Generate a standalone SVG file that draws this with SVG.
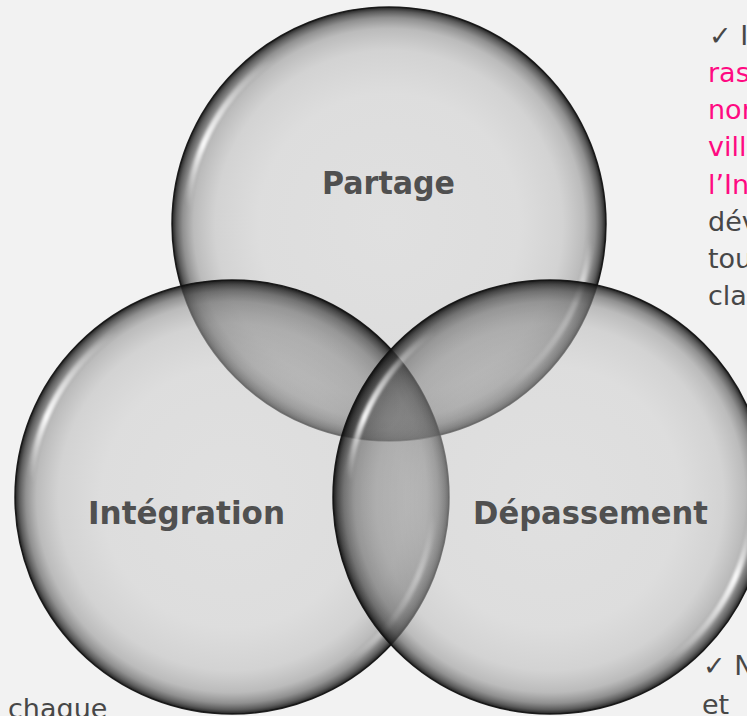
<svg xmlns="http://www.w3.org/2000/svg" width="747" height="716" viewBox="0 0 747 716">
<style>
.rim{fill:none;stroke:#111;stroke-width:1.5;stroke-opacity:0.92}
.glass{fill:url(#glass)}
.shade{fill:url(#shade)}
.hl{fill:none;stroke-width:6;stroke-linecap:round;filter:url(#soft)}
.label{font-family:"DejaVu Sans","Liberation Sans",sans-serif;font-weight:bold;font-size:32px;fill:#505050;text-anchor:middle}
.body{font-family:"DejaVu Sans","Liberation Sans",sans-serif;font-size:27px}
.gray{fill:#474747}
.pink{fill:#ff0a82}
</style>
<defs>
<radialGradient id="glass" cx="0.5" cy="0.5" r="0.5">
<stop offset="0" stop-color="#cecece" stop-opacity="0.5"/>
<stop offset="0.6" stop-color="#cacaca" stop-opacity="0.52"/>
<stop offset="0.8" stop-color="#bababa" stop-opacity="0.56"/>
<stop offset="0.9" stop-color="#9a9a9a" stop-opacity="0.62"/>
<stop offset="0.95" stop-color="#6e6e6e" stop-opacity="0.74"/>
<stop offset="0.98" stop-color="#404040" stop-opacity="0.85"/>
<stop offset="1" stop-color="#151515" stop-opacity="0.95"/>
</radialGradient>
<radialGradient id="shade" cx="0.5" cy="0.5" r="0.5">
<stop offset="0" stop-color="#000" stop-opacity="0.08"/>
<stop offset="0.6" stop-color="#000" stop-opacity="0.1"/>
<stop offset="0.85" stop-color="#000" stop-opacity="0.14"/>
<stop offset="1" stop-color="#000" stop-opacity="0.2"/>
</radialGradient>
<clipPath id="inTop"><circle cx="389" cy="224" r="217"/></clipPath>
<clipPath id="inLeft"><circle cx="232" cy="497" r="217"/></clipPath>
<linearGradient id="hlUL" x1="0" y1="1" x2="1" y2="0">
<stop offset="0" stop-color="#fff" stop-opacity="0"/>
<stop offset="0.3" stop-color="#fff" stop-opacity="0.95"/>
<stop offset="0.7" stop-color="#fff" stop-opacity="0.35"/>
<stop offset="1" stop-color="#fff" stop-opacity="0"/>
</linearGradient>
<linearGradient id="hlLR" x1="1" y1="0" x2="0" y2="1">
<stop offset="0" stop-color="#fff" stop-opacity="0"/>
<stop offset="0.3" stop-color="#fff" stop-opacity="0.95"/>
<stop offset="0.7" stop-color="#fff" stop-opacity="0.35"/>
<stop offset="1" stop-color="#fff" stop-opacity="0"/>
</linearGradient>
<filter id="soft" x="-20%" y="-20%" width="140%" height="140%">
<feGaussianBlur stdDeviation="1.8"/>
</filter>
</defs>
<rect width="747" height="716" fill="#f2f2f2"/>

<g id="node-partage">
<circle class="glass" cx="389" cy="224" r="217"/>
<path class="hl" stroke="url(#hlUL)" d="M187.8 206.4 A202 202 0 0 1 273.1 58.5"/>
<path class="hl" stroke="url(#hlLR)" d="M590.2 241.6 A202 202 0 0 1 504.9 389.5"/>
<circle class="rim" cx="389" cy="224" r="217"/>
</g>

<g id="node-integration">
<circle class="glass" cx="232" cy="497" r="217"/>
<circle class="shade" cx="232" cy="497" r="217" clip-path="url(#inTop)"/>
<path class="hl" stroke="url(#hlUL)" d="M30.8 479.4 A202 202 0 0 1 116.1 331.5"/>
<path class="hl" stroke="url(#hlLR)" d="M433.2 514.6 A202 202 0 0 1 347.9 662.5"/>
<circle class="rim" cx="232" cy="497" r="217"/>
</g>

<g id="node-depassement">
<circle class="glass" cx="550" cy="497" r="217"/>
<circle class="shade" cx="550" cy="497" r="217" clip-path="url(#inTop)"/>
<circle class="shade" cx="550" cy="497" r="217" clip-path="url(#inLeft)"/>
<path class="hl" stroke="url(#hlUL)" d="M348.8 479.4 A202 202 0 0 1 434.1 331.5"/>
<path class="hl" stroke="url(#hlLR)" d="M751.2 514.6 A202 202 0 0 1 665.9 662.5"/>
<circle class="rim" cx="550" cy="497" r="217"/>
</g>

<g id="labels">
<text class="label" x="388.5" y="194" textLength="133" lengthAdjust="spacingAndGlyphs">Partage</text>
<text class="label" x="186.5" y="524" textLength="197" lengthAdjust="spacingAndGlyphs">Intégration</text>
<text class="label" x="590.5" y="524" textLength="235" lengthAdjust="spacingAndGlyphs">Dépassement</text>
</g>

<g id="connectors"/>

<g id="side-text" class="body">
<text class="gray" x="709" y="45">✓ I</text>
<text class="pink" x="708" y="82">ras</text>
<text class="pink" x="708" y="119">nor</text>
<text class="pink" x="708" y="156">vill</text>
<text class="pink" x="708" y="194">l’In</text>
<text class="gray" x="708" y="231">dév</text>
<text class="gray" x="708" y="268">tou</text>
<text class="gray" x="708" y="305">cla</text>
<text class="gray" x="703" y="675">✓ N</text>
<text class="gray" x="702" y="714">et</text>
<text class="gray" x="8" y="718">chaque</text>
</g>
</svg>
